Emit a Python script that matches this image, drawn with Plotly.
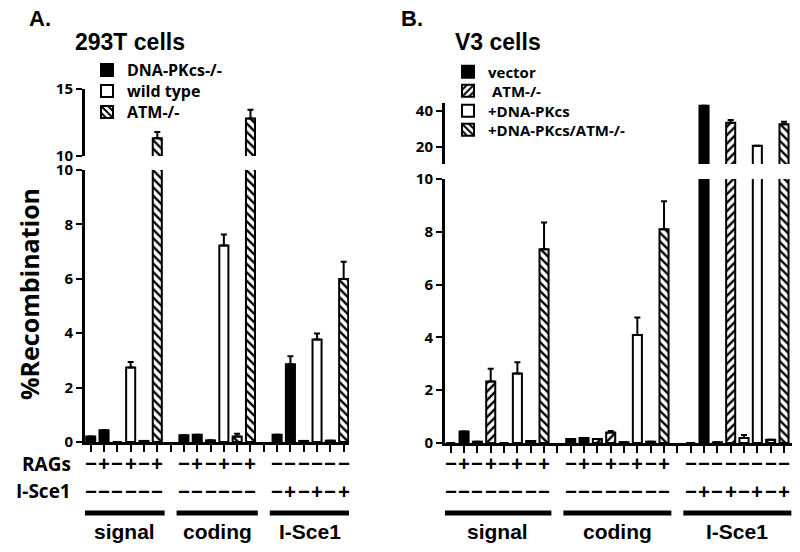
import plotly.graph_objects as go

W, H = 800, 552

# ---------------- data ----------------
groups = ["signal", "coding", "I-Sce1"]
rags_signs = [["−", "+"], ["−", "+"], ["−", "−"]]
isce_signs = [["−", "−"], ["−", "−"], ["−", "+"]]

# Panel A: 293T cells ; values ordered [sig-, sig+, cod-, cod+, isc-, isc+]
a_series = ["DNA-PKcs-/-", "wild type", "ATM-/-"]
a_dnapkcs = [0.2, 0.43, 0.25, 0.27, 0.27, 2.86]
a_wildtype = [0.0, 2.74, 0.06, 7.22, 0.04, 3.77]
a_atm = [0.04, 11.33, 0.2, 12.8, 0.05, 5.99]
a_dnapkcs_err = [0, 0, 0, 0, 0, 0.29]
a_wildtype_err = [0, 0.2, 0, 0.41, 0, 0.22]
a_atm_err = [0, 0.47, 0.1, 0.65, 0, 0.64]

# Panel B: V3 cells
b_series = ["vector", " ATM-/-", "+DNA-PKcs", "+DNA-PKcs/ATM-/-"]
b_vector = [0.0, 0.44, 0.15, 0.19, 0.0, 42.7]
b_atm = [0.05, 2.33, 0.15, 0.4, 0.03, 33.4]
b_dnapkcs = [0.0, 2.63, 0.03, 4.09, 0.19, 20.8]
b_dnapkcs_atm = [0.08, 7.34, 0.05, 8.1, 0.12, 32.5]
b_vector_err = [0, 0, 0, 0, 0, 0]
b_atm_err = [0, 0.48, 0, 0.05, 0, 1.5]
b_dnapkcs_err = [0, 0.43, 0, 0.66, 0.11, 0]
b_dnapkcs_atm_err = [0, 1.01, 0, 1.06, 0, 1.5]

a_styles = [dict(color="black", pattern=None), dict(color="white", pattern=None),
            dict(color="white", pattern="\\")]
b_styles = [dict(color="black", pattern=None), dict(color="white", pattern="/"),
            dict(color="white", pattern=None), dict(color="white", pattern="\\")]


def px_x(p):
    return p / W


def px_y(p):
    return 1 - p / H


def slots(n_series, s):
    stride = 2 * n_series + 1
    return [g * stride + 2 * s + c for g in range(3) for c in range(2)]


# subplot frames (pixels)
A_X = (85, 349)
A_LOW = (442, 170)
A_UP = (156, 89)
B_X = (445, 792)
B_LOW = (443, 179)
B_UP = (164, 103)

# legend rows (pixel centres) and left edges
A_LEG_X, A_LEG_ROWS, A_LEG_SIZE = 87, [70, 91, 112], 16
B_LEG_X, B_LEG_ROWS, B_LEG_SIZE = 448, [72, 91, 111, 130], 15

fig = go.Figure()
BOLD = dict(family="Open Sans", weight="bold", color="black")
legend_layout = {}
leg_counter = [0]


def next_legend(x_px, y_px, size):
    leg_counter[0] += 1
    key = "legend" if leg_counter[0] == 1 else "legend%d" % leg_counter[0]
    legend_layout[key] = dict(x=px_x(x_px), y=px_y(y_px), xanchor="left", yanchor="middle",
                              font=dict(size=size, **BOLD), bgcolor="rgba(0,0,0,0)",
                              tracegroupgap=0)
    return key


def add_panel(series, values, errors, styles, xa, ya_low, ya_up, leg_x, leg_rows, leg_size):
    n = len(series)
    for s, (name, vals, errs, st) in enumerate(zip(series, values, errors, styles)):
        xs = slots(n, s)
        leg = next_legend(leg_x, leg_rows[s], leg_size)
        marker = dict(color=st["color"], line=dict(color="black", width=2))
        if st["pattern"]:
            marker["pattern"] = dict(shape=st["pattern"], fgcolor="black", bgcolor="white",
                                     size=6, solidity=0.4, fillmode="replace")
        for ya, show in ((ya_low, True), (ya_up, False)):
            fig.add_trace(go.Bar(
                x=xs, y=vals, name=name, width=0.68, xaxis=xa, yaxis=ya, marker=marker,
                error_y=dict(type="data", symmetric=False, array=errs,
                             arrayminus=[0] * len(errs), color="black", thickness=2, width=3),
                showlegend=show, legend=leg,
            ))


add_panel(a_series, [a_dnapkcs, a_wildtype, a_atm],
          [a_dnapkcs_err, a_wildtype_err, a_atm_err], a_styles, "x", "y", "y2",
          A_LEG_X, A_LEG_ROWS, A_LEG_SIZE)
add_panel(b_series, [b_vector, b_atm, b_dnapkcs, b_dnapkcs_atm],
          [b_vector_err, b_atm_err, b_dnapkcs_err, b_dnapkcs_atm_err], b_styles,
          "x2", "y3", "y4", B_LEG_X, B_LEG_ROWS, B_LEG_SIZE)

xcommon = dict(showgrid=False, zeroline=False, showline=True, linecolor="#000000", linewidth=3,
               ticks="outside", ticklen=7, tickwidth=2, tickcolor="#000000", layer="above traces",
               tickmode="linear", tick0=0, dtick=1, showticklabels=False, automargin=False)
ycommon = dict(showgrid=False, zeroline=False, showline=True, linecolor="#000000", linewidth=3,
               ticks="outside", ticklen=6, tickwidth=2, tickcolor="#000000", layer="above traces",
               tickfont=dict(size=15, **BOLD), automargin=False)


def ydom(p):
    return [px_y(p[0]), px_y(p[1])]


def xdom(p):
    return [px_x(p[0]), px_x(p[1])]


fig.update_layout(
    template="none",
    width=W, height=H, margin=dict(l=0, r=0, t=0, b=0, pad=0, autoexpand=False),
    paper_bgcolor="white", plot_bgcolor="rgba(0,0,0,0)", barmode="overlay",
    xaxis=dict(domain=xdom(A_X), range=[-0.43, 19.4], anchor="y", **xcommon),
    yaxis=dict(domain=ydom(A_LOW), range=[0, 10], tickvals=[0, 2, 4, 6, 8, 10], anchor="x", **ycommon),
    yaxis2=dict(domain=ydom(A_UP), range=[10, 15], tickvals=[10, 15], anchor="x", **ycommon),
    xaxis2=dict(domain=xdom(B_X), range=[-0.43, 25.6], anchor="y3", **xcommon),
    yaxis3=dict(domain=ydom(B_LOW), range=[0, 10], tickvals=[0, 2, 4, 6, 8, 10], anchor="x2", **ycommon),
    yaxis4=dict(domain=ydom(B_UP), range=[10.8, 44.2], tickvals=[20, 40], anchor="x2", **ycommon),
    showlegend=True,
    **legend_layout,
)

ann = []
shapes = []
ARIAL = dict(family="Liberation Sans", weight="bold", color="black")


def text(x, y, t, size, font=BOLD, xanchor="center", xref="paper", angle=0):
    ann.append(dict(x=x, y=y, xref=xref, yref="paper", text=t, showarrow=False,
                    xanchor=xanchor, yanchor="middle", textangle=angle,
                    font=dict(size=size, **font)))


text(px_x(27), px_y(18), "A.", 22, ARIAL, "left")
text(px_x(73), px_y(42), "293T cells", 23, ARIAL, "left")
text(px_x(399), px_y(18), "B.", 22, ARIAL, "left")
text(px_x(453), px_y(42), "V3 cells", 23, ARIAL, "left")
text(px_x(29), px_y(294), "%Recombination", 25, BOLD, "center", angle=-90)
text(px_x(73), px_y(464), "RAGs", 19, BOLD, "right")
text(px_x(73), px_y(491), "I-Sce1", 19, BOLD, "right")

for xa, n in (("x", len(a_series)), ("x2", len(b_series))):
    stride = 2 * n + 1
    for g, gname in enumerate(groups):
        for s in range(n):
            for c in range(2):
                xpos = g * stride + 2 * s + c
                text(xpos, px_y(463), rags_signs[g][c], 21, BOLD, "center", xref=xa)
                text(xpos, px_y(491), isce_signs[g][c], 21, BOLD, "center", xref=xa)
        x0 = g * stride - 0.55
        x1 = g * stride + 2 * n - 1 + 0.55
        shapes.append(dict(type="line", xref=xa, yref="paper", x0=x0, x1=x1,
                           y0=px_y(513), y1=px_y(513), line=dict(color="black", width=5)))
        text((x0 + x1) / 2, px_y(531), gname, 21, ARIAL, "center", xref=xa)

fig.update_layout(annotations=ann, shapes=shapes)
fig.write_html("out.html", post_script="document.body.style.margin='0';",
               config={"displayModeBar": False})
